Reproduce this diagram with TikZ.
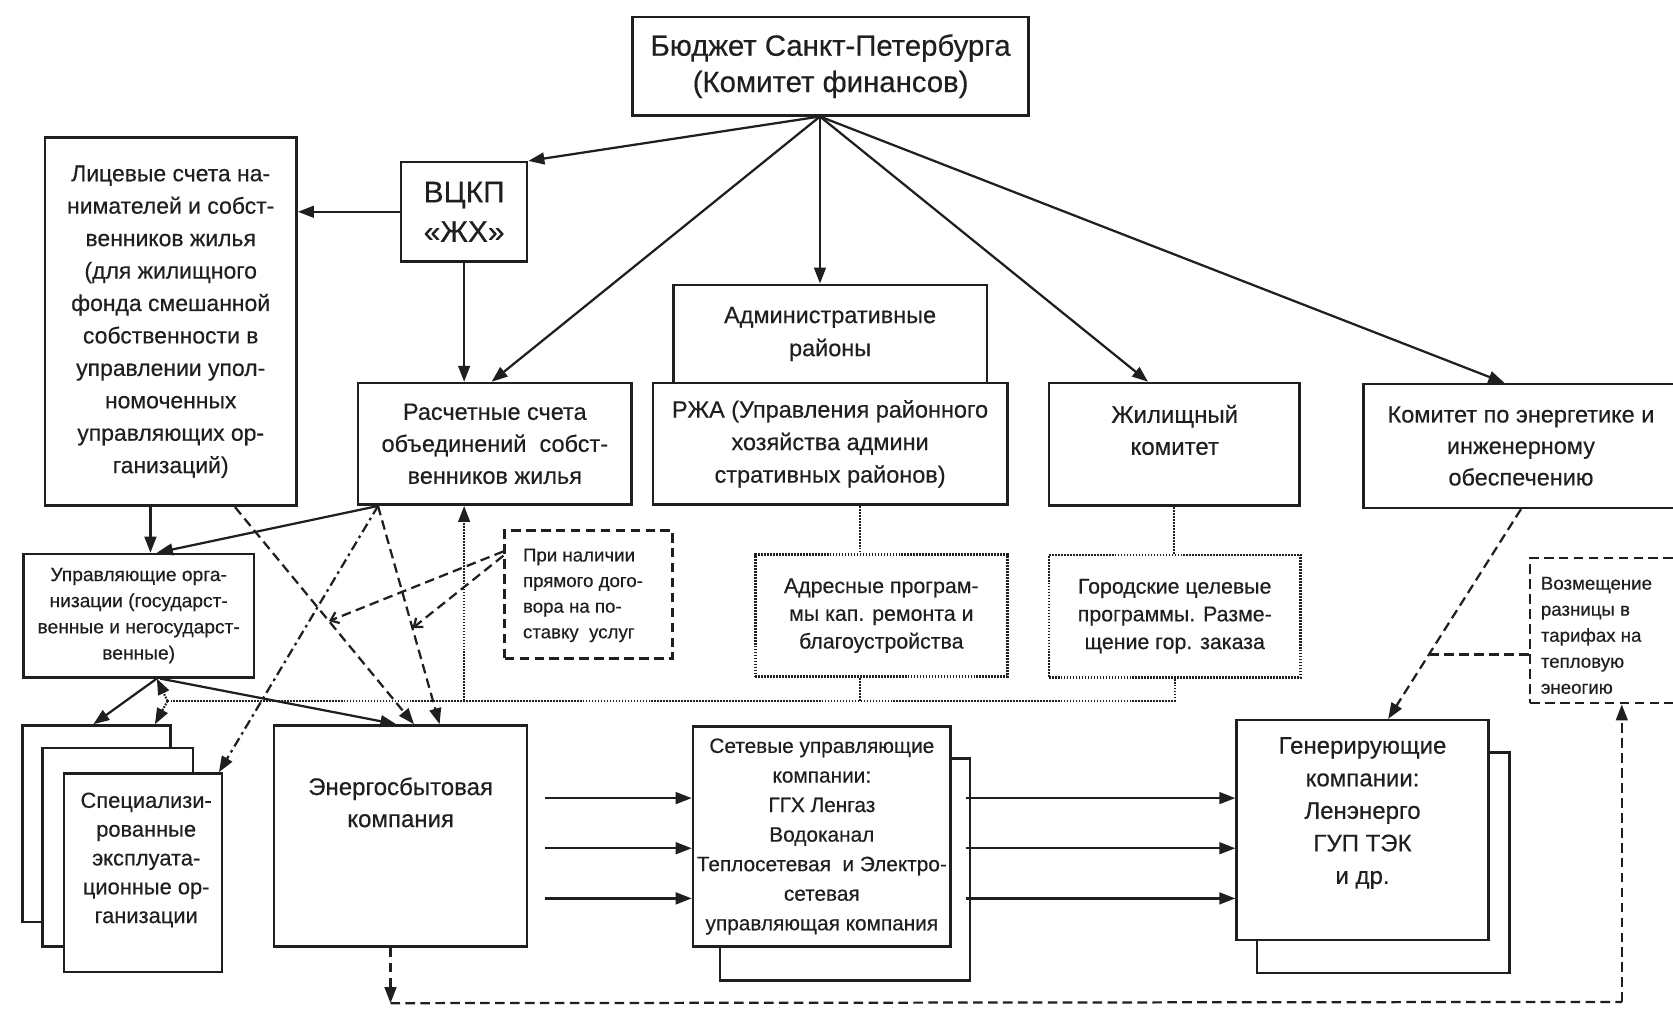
\documentclass[tikz,border=0pt]{standalone}
\usepackage{fontspec}
\setmainfont[FakeBold=0.4]{Liberation Sans}
\usetikzlibrary{arrows.meta,calc}
\tikzset{
  fsz/.style 2 args={font={\fontsize{#1}{#2}\selectfont}},
  ink/.style={draw=black!88, line width=2.4pt},
  box/.style={ink, fill=white, rectangle, inner sep=0pt, align=center, text=black!88},
  dbox/.style={box, dash pattern=on 9pt off 5pt},
  obox/.style={box, dash pattern=on 1.6pt off 1.2pt},
  arr/.style={draw=black!88, line width=2.1pt, -{Triangle[length=15pt,width=11pt]}},
  darr/.style={arr, dash pattern=on 9pt off 5pt},
  ddarr/.style={arr, dash pattern=on 9pt off 4pt on 2.5pt off 4pt},
  oline/.style={draw=black!88, line width=2pt, dash pattern=on 1.6pt off 1.2pt},
  oarr/.style={oline, -{Triangle[length=15pt,width=11pt]}},
  dline/.style={draw=black!88, line width=2.1pt, dash pattern=on 9pt off 5pt},
  barb/.style={dline, -{Straight Barb[length=7pt,width=11pt]}},
  txt/.style={align=center, inner sep=0pt, text=black!88},
}
\begin{document}
\begin{tikzpicture}[x=1pt,y=-1pt]
\path[fill=white, use as bounding box] (0,0) rectangle (1568,969);

% top
\node[box, fsz={27.5}{34}, minimum width=371pt, minimum height=92pt] (budget) at (778.5,62) {Бюджет Санкт-Петербурга\\(Комитет финансов)};
\node[box, fsz={21.5}{30.4}, minimum width=236pt, minimum height=345pt] (lic) at (160,301.5) {Лицевые счета на-\\нимателей и собст-\\венников жилья\\(для жилищного\\фонда смешанной\\собственности в\\управлении упол-\\номоченных\\управляющих ор-\\ганизаций)};
\node[box, fsz={28}{37}, minimum width=118pt, minimum height=93pt] (vckp) at (435,198.5) {ВЦКП\\«ЖХ»};
\node[box, fsz={22}{31}, minimum width=294pt, minimum height=92pt] (admin) at (778,313) {Административные\\районы};
\node[box, fsz={22}{30.5}, minimum width=332pt, minimum height=114pt] (rzha) at (778,416) {РЖА (Управления районного\\хозяйства админи\\стративных районов)};
\node[box, fsz={22}{30}, minimum width=256.5pt, minimum height=114pt] (rasch) at (463.75,416) {Расчетные счета\\объединений~ собст-\\венников жилья};
\node[box, minimum width=235pt, minimum height=115pt] (zhil) at (1100.5,416.5) {};
\node[txt, fsz={22.5}{30}] (zhilT) at (1101,403) {Жилищный\\комитет};
\node[box, fsz={22}{29.5}, minimum width=295pt, minimum height=116pt] (komen) at (1425.5,418) {Комитет по энергетике и\\инженерному\\обеспечению};

% middle
\node[box, fsz={18}{24.5}, minimum width=216pt, minimum height=115.5pt] (upr) at (130,577) {Управляющие орга-\\низации (государст-\\венные и негосударст-\\венные)};
\node[dbox, minimum width=157.5pt, minimum height=120pt] (pri) at (551.75,557) {};
\node[txt, align=left, anchor=west, fsz={17.5}{24}] (priT) at (490,558) {При наличии\\прямого дого-\\вора на по-\\ставку~ услуг};
\node[obox, fsz={20}{26}, minimum width=236pt, minimum height=114.5pt] (adres) at (826,577) {Адресные програм-\\мы кап. ремонта и\\благоустройства};
\node[obox, fsz={20}{26}, minimum width=236pt, minimum height=115pt] (gorod) at (1101,577.5) {Городские целевые\\программы. Разме-\\щение гор. заказа};
\node[dbox, minimum width=139pt, minimum height=136pt] (vozm) at (1503.5,591) {};
\node[txt, align=left, anchor=west, fsz={17.5}{24.4}] (vozmT) at (1444,595.5) {Возмещение\\разницы в\\тарифах на\\тепловую\\энеогию};

% bottom
\node[box, minimum width=139pt, minimum height=184pt] (sp1) at (90.5,772) {};
\node[box, minimum width=141pt, minimum height=186pt] (sp2) at (110.5,794) {};
\node[box, minimum width=148pt, minimum height=186pt] (sp3) at (134,818) {};
\node[txt, fsz={20.5}{27}] (sp3T) at (137,806) {Специализи-\\рованные\\эксплуата-\\ционные ор-\\ганизации};
\node[box, minimum width=237pt, minimum height=207pt] (energ) at (375.5,783.5) {};
\node[txt, fsz={22.5}{30}] (energT) at (375.5,752) {Энергосбытовая\\компания};
\node[box, minimum width=234pt, minimum height=208pt] (setb) at (792,815) {};
\node[box, fsz={19.5}{27.7}, minimum width=241.5pt, minimum height=206pt] (setf) at (770.25,784) {Сетевые управляющие\\компании:\\ГГХ Ленгаз\\Водоканал\\Теплосетевая~ и Электро-\\сетевая\\управляющая компания};
\node[box, minimum width=237pt, minimum height=207pt] (genb) at (1296.5,808.5) {};
\node[box, minimum width=236pt, minimum height=206pt] (genf) at (1277,778) {};
\node[txt, fsz={22.5}{30.5}] (genT) at (1277,762) {Генерирующие\\компании:\\Ленэнерго\\ГУП ТЭК\\и др.};

% fan from budget
\coordinate (fan) at ([xshift=-10pt]budget.south);
\draw[arr] (fan) -- (vckp.north east);
\draw[arr] (fan) -- ([xshift=-3pt]rasch.north);
\draw[arr] (fan) -- (fan |- admin.north);
\draw[arr] (fan) -- ([xshift=-24.5pt]zhil.north);
\draw[arr] (fan) -- ([xshift=-15.5pt]komen.north);
\draw[arr] (vckp.west) -- (vckp.west -| lic.east);
\draw[arr] (vckp.south) -- (vckp.south |- rasch.north);

% to management orgs
\draw[arr] ([xshift=-19pt]lic.south) -- ([xshift=-19pt]lic.south |- upr.north);
\coordinate (rs) at ([xshift=20pt]rasch.south west);
\draw[arr] (rs) -- ([xshift=17pt]upr.north);
\coordinate (ls) at ([xshift=-59pt]lic.south east);
\coordinate (e1) at ([xshift=12.5pt]energ.north);
\coordinate (e2) at ([xshift=36.5pt]energ.north);
\draw[darr] (ls) -- (e1);
\draw[darr] (rs) -- (e2);
\draw[ddarr] (rs) -- ([xshift=-4pt]sp3.north east);
\coordinate (p1) at ($(ls)!0.525!(e1)$);
\coordinate (p2) at ($(rs)!0.56!(e2)$);
\draw[barb] ([yshift=-21pt]pri.north west) -- (p1);
\draw[barb] ([yshift=-25pt]pri.north west) -- (p2);

\draw[arr] ([xshift=17pt]upr.south) -- ([xshift=-3pt]sp1.north);
\draw[arr] ([xshift=20pt]upr.south) -- ([xshift=-4pt]energ.north);

% dotted programme links
\coordinate (dA) at ([xshift=-20pt]adres.north);
\draw[oline] (dA |- rzha.south) -- (dA);
\draw[oline] (zhil.south) -- (zhil.south |- gorod.north);
\coordinate (J) at (157,657);
\draw[oline] (gorod.south) -- (gorod.south |- J) -- (J);
\draw[oline] ([xshift=-20pt]adres.south) -- ([xshift=-20pt]adres.south |- J);
\draw[oarr] (vckp.south |- J) -- (vckp.south |- rasch.south);
\draw[oarr] (J) -- ([xshift=17pt]upr.south);
\draw[oarr] (J) -- ([xshift=-16pt]sp1.north east);

% bottom dashed loop
\coordinate (B) at ($(energ.south)+(-9.5,52)$);
\coordinate (BR) at (1520,939);
\draw[darr] ([xshift=-9.5pt]energ.south) -- (B);
\draw[dline] (B) -- (BR);
\draw[darr] (BR) -- (BR |- vozm.south);

% energy committee to generating
\coordinate (gt) at ([xshift=24pt]genf.north);
\draw[darr] (komen.south) -- (gt);
\coordinate (q) at ($(komen.south)!0.693!(gt)$);
\draw[dline] (q -| vozm.west) -- (q);

% horizontal flows
\foreach \yy [count=\i] in {748,795,842} {
  \coordinate (ea\i) at (511,\yy);
  \draw[arr] (ea\i) -- (ea\i -| setf.west);
  \coordinate (ga\i) at (905,\yy);
  \draw[arr] (ga\i) -- (ga\i -| genf.west);
}
\end{tikzpicture}
\end{document}
